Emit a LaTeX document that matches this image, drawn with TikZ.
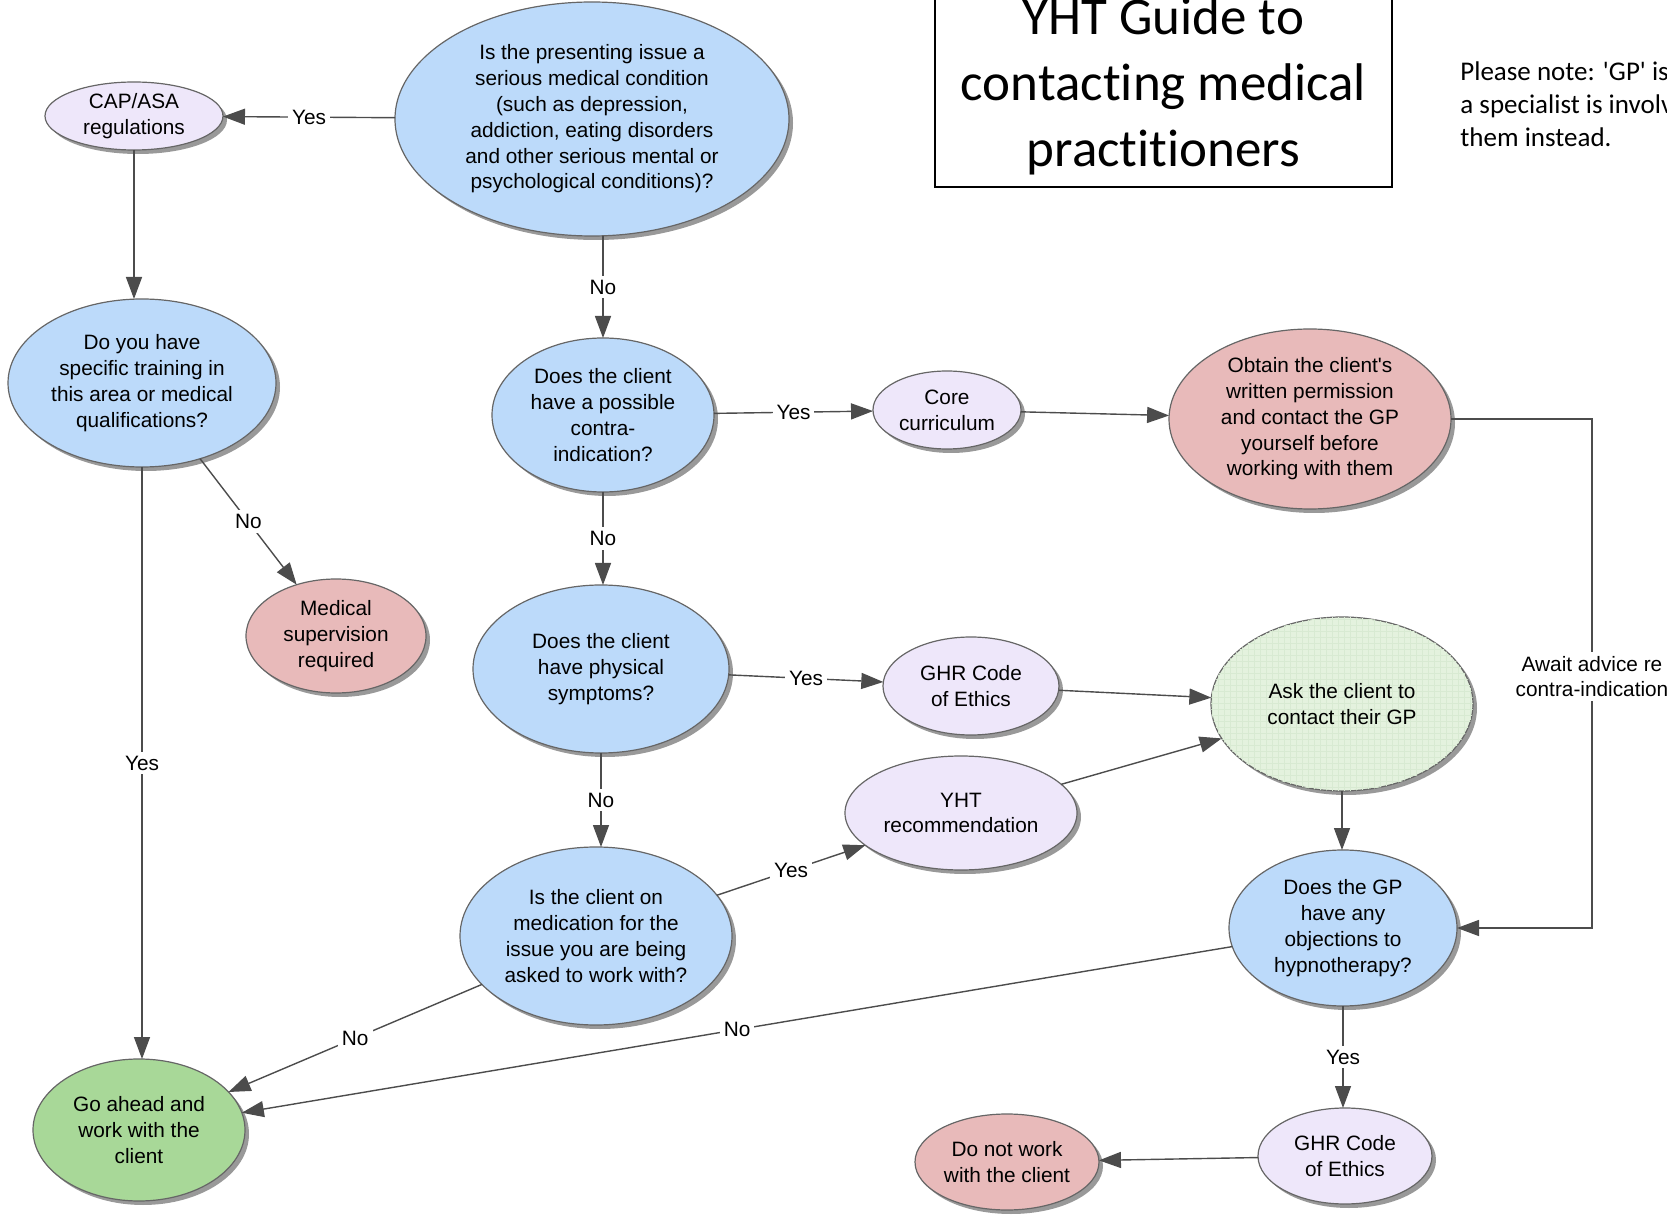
\documentclass[tikz,border=0pt]{standalone}
\usepackage{fontspec}
\setmainfont{Liberation Sans}
\newfontfamily\calib[Ligatures={NoCommon,NoRare}]{Carlito}
\usetikzlibrary{shapes.geometric,arrows.meta,shadows,patterns}
\definecolor{qblue}{RGB}{188,218,250}
\definecolor{lav}{RGB}{238,231,250}
\definecolor{pinkred}{RGB}{232,186,186}
\definecolor{okgreen}{RGB}{168,216,152}
\definecolor{palegreen}{RGB}{228,242,222}
\definecolor{gridgreen}{RGB}{216,234,210}
\begin{document}
\begin{tikzpicture}[x=0.5pt,y=-0.5pt,
  base/.style={ellipse, draw=black!60, line width=0.6pt, inner sep=0pt, outer sep=0pt,
    align=center, font=\fontsize{10.4}{12.9}\selectfont,
    drop shadow={shadow xshift=2pt, shadow yshift=-2pt, fill=black, opacity=0.4}},
  qnode/.style={base, fill=qblue},
  lnode/.style={base, fill=lav},
  rnode/.style={base, fill=pinkred},
  gnode/.style={base, fill=okgreen},
  pnode/.style={base, fill=palegreen, postaction={pattern=grid, pattern color=gridgreen}},
  sz/.style 2 args={minimum width=#1pt, minimum height=#2pt},
  arr/.style={draw=black!70, line width=0.7pt, -{Triangle[length=11pt,width=8pt]}},
  lbl/.style={fill=white, inner sep=2pt, font=\fontsize{10.4}{12.9}\selectfont},
]
\useasboundingbox (0,0) rectangle (1667,1219);

% title and note
\node[draw=black, line width=0.8pt, minimum width=228.5pt, minimum height=120pt, anchor=south, inner sep=0pt] (titlebox) at (1163.5,188) {};
\node[font=\calib\fontsize{26.5}{33}\selectfont, align=center, inner sep=0pt] (title) at (1163.5,86) {YHT Guide to\\contacting medical\\practitioners};
\node[anchor=north west, align=left, inner sep=0pt, font=\calib\fontsize{13.5}{16.5}\selectfont] (note) at (1460,61) {Please note: \textquotesingle GP\textquotesingle{} is\\a specialist is involv\\them instead.};

% nodes
\node[qnode, sz={197}{117}] (q1) at (592,119) {Is the presenting issue a\\serious medical condition\\(such as depression,\\addiction, eating disorders\\and other serious mental or\\psychological conditions)?};
\node[lnode, sz={89}{34}] (cap) at (134,116) {CAP/ASA\\regulations};
\node[qnode, sz={134}{84}] (train) at (142,383) {Do you have\\specific training in\\this area or medical\\qualifications?};
\node[rnode, sz={90}{57}] (medsup) at (336,636) {Medical\\supervision\\required};
\node[gnode, sz={106}{71}] (goahead) at (139,1130) {Go ahead and\\work with the\\client};
\node[qnode, sz={111}{77}] (contra) at (603,415) {Does the client\\have a possible\\contra-\\indication?};
\node[lnode, sz={74}{39}] (core) at (947,410) {Core\\curriculum};
\node[rnode, sz={141}{90}] (obtain) at (1310,419) {Obtain the client\textquotesingle s\\written permission\\and contact the GP\\yourself before\\working with them};
\node[qnode, sz={128}{84}] (phys) at (601,669) {Does the client\\have physical\\symptoms?};
\node[lnode, sz={88}{49}] (ghr1) at (971,686) {GHR Code\\of Ethics};
\node[pnode, sz={131}{87}] (ask) at (1342,704) {Ask the client to\\contact their GP};
\node[lnode, sz={116}{57}] (yht) at (961,813) {YHT\\recommendation};
\node[qnode, sz={136}{89}] (med) at (596,936) {Is the client on\\medication for the\\issue you are being\\asked to work with?};
\node[qnode, sz={114}{78}] (gpobj) at (1343,928) {Does the GP\\have any\\objections to\\hypnotherapy?};
\node[lnode, sz={87}{48}] (ghr2) at (1345,1156) {GHR Code\\of Ethics};
\node[rnode, sz={92}{48}] (donot) at (1007,1162) {Do not work\\with the client};

\coordinate (elbow) at (1592,423);

% connectors
\draw[arr] (q1) -- node[lbl]{Yes} (cap);
\draw[arr] (cap.south) -- (cap.south |- train.north);
\draw[arr] (train) -- node[lbl]{No} (medsup);
\draw[arr] (train.south) -- node[lbl]{Yes} (train.south |- goahead.north);
\draw[arr] (q1.south -| contra.north) -- node[lbl]{No} (contra.north);
\draw[arr] (contra) -- node[lbl]{Yes} (core);
\draw[arr] (core) -- (obtain);
\draw[arr] (obtain.east) -- (obtain.east -| elbow) -- node[lbl, align=center, yshift=-1.5pt]{Await advice re\\contra-indication} (elbow |- gpobj.east) -- (gpobj.east);
\draw[arr] (contra.south) -- node[lbl]{No} (contra.south |- phys.north);
\draw[arr] (phys) -- node[lbl]{Yes} (ghr1);
\draw[arr] (ghr1) -- (ask);
\draw[arr] (phys.south) -- node[lbl]{No} (phys.south |- med.north);
\draw[arr] (med) -- node[lbl]{Yes} (yht);
\draw[arr] (yht) -- (ask);
\draw[arr] (ask.south) -- (ask.south |- gpobj.north);
\draw[arr] (gpobj) -- node[lbl]{No} (goahead);
\draw[arr] (med) -- node[lbl]{No} (goahead);
\draw[arr] (gpobj.south) -- node[lbl]{Yes} (gpobj.south |- ghr2.north);
\draw[arr] (ghr2) -- (donot);
\end{tikzpicture}
\end{document}
